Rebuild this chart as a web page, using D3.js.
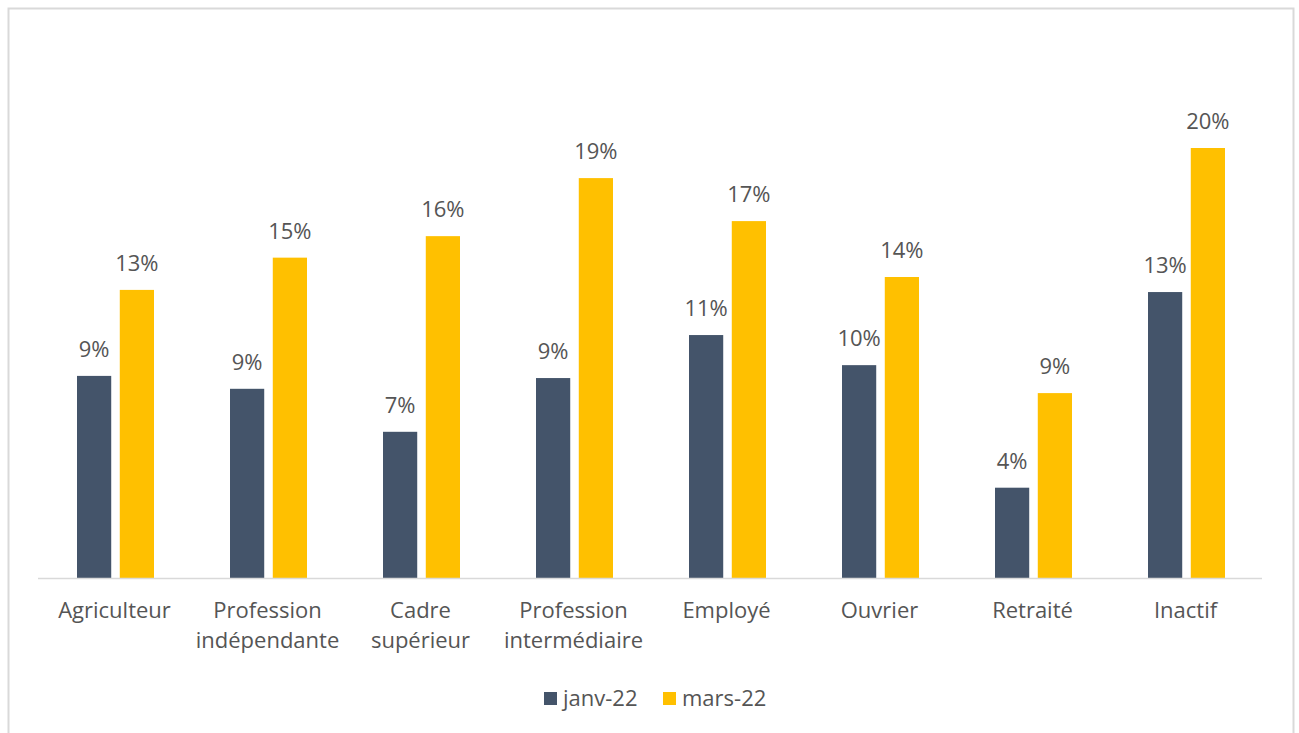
<!DOCTYPE html>
<html><head><meta charset="utf-8">
<script src="https://cdn.jsdelivr.net/npm/d3@7"></script>
<style>body{margin:0;background:#fff;}svg{display:block;}text{font-family:"Open Sans",Lato,sans-serif;fill:#555555;}</style>
</head><body>
<script>
const categories = [["Agriculteur"],["Profession","indépendante"],["Cadre","supérieur"],["Profession","intermédiaire"],["Employé"],["Ouvrier"],["Retraité"],["Inactif"]];
const seriesNames = ["janv-22","mars-22"];
const janv = [9.4, 8.8, 6.8, 9.3, 11.3, 9.9, 4.2, 13.3];
const mars = [13.4, 14.9, 15.9, 18.6, 16.6, 14.0, 8.6, 20.0];
const colors = ["#44546a","#ffc000"];

const W=1299,H=733;
const svg=d3.select("body").append("svg").attr("width",W).attr("height",H);
svg.append("rect").attr("x",8.5).attr("y",8.5).attr("width",1285).attr("height",740).attr("fill","#fff").attr("stroke","#d9d9d9").attr("stroke-width",2);

const x0=d3.scaleBand().domain(d3.range(categories.length)).range([38,1262]).paddingInner(0).paddingOuter(0);
const x1=d3.scaleBand().domain([0,1]).range([39,116]).paddingInner(0.2);
const y=d3.scaleLinear().domain([0,20]).range([578,148]);
const series=[janv,mars];

const g=svg.append("g");
series.forEach((vals,s)=>{
  g.selectAll(".b"+s).data(vals).enter().append("rect")
   .attr("x",(d,i)=>x0(i)+x1(s)).attr("width",x1.bandwidth())
   .attr("y",d=>y(d)).attr("height",d=>y(0)-y(d)).attr("fill",colors[s]);
  g.selectAll(".l"+s).data(vals).enter().append("text")
   .attr("x",(d,i)=>x0(i)+x1(s)+x1.bandwidth()/2).attr("y",d=>y(d)-19)
   .attr("text-anchor","middle").attr("font-size",22).text(d=>Math.round(d)+"%");
});
svg.append("line").attr("x1",38).attr("x2",1262).attr("y1",578.5).attr("y2",578.5).attr("stroke","#d9d9d9").attr("stroke-width",1.5);

categories.forEach((lines,i)=>{
  const t=svg.append("text").attr("text-anchor","middle").attr("font-size",22);
  lines.forEach((ln,j)=>t.append("tspan").attr("x",x0(i)+x0.bandwidth()/2).attr("y",618+j*30).text(ln));
});

const leg=svg.append("g");
const legX=[544,663];
seriesNames.forEach((n,s)=>{
  leg.append("rect").attr("x",legX[s]).attr("y",692).attr("width",13).attr("height",13).attr("fill",colors[s]);
  leg.append("text").attr("x",legX[s]+19).attr("y",706).attr("font-size",22).text(n);
});
</script>
</body></html>
